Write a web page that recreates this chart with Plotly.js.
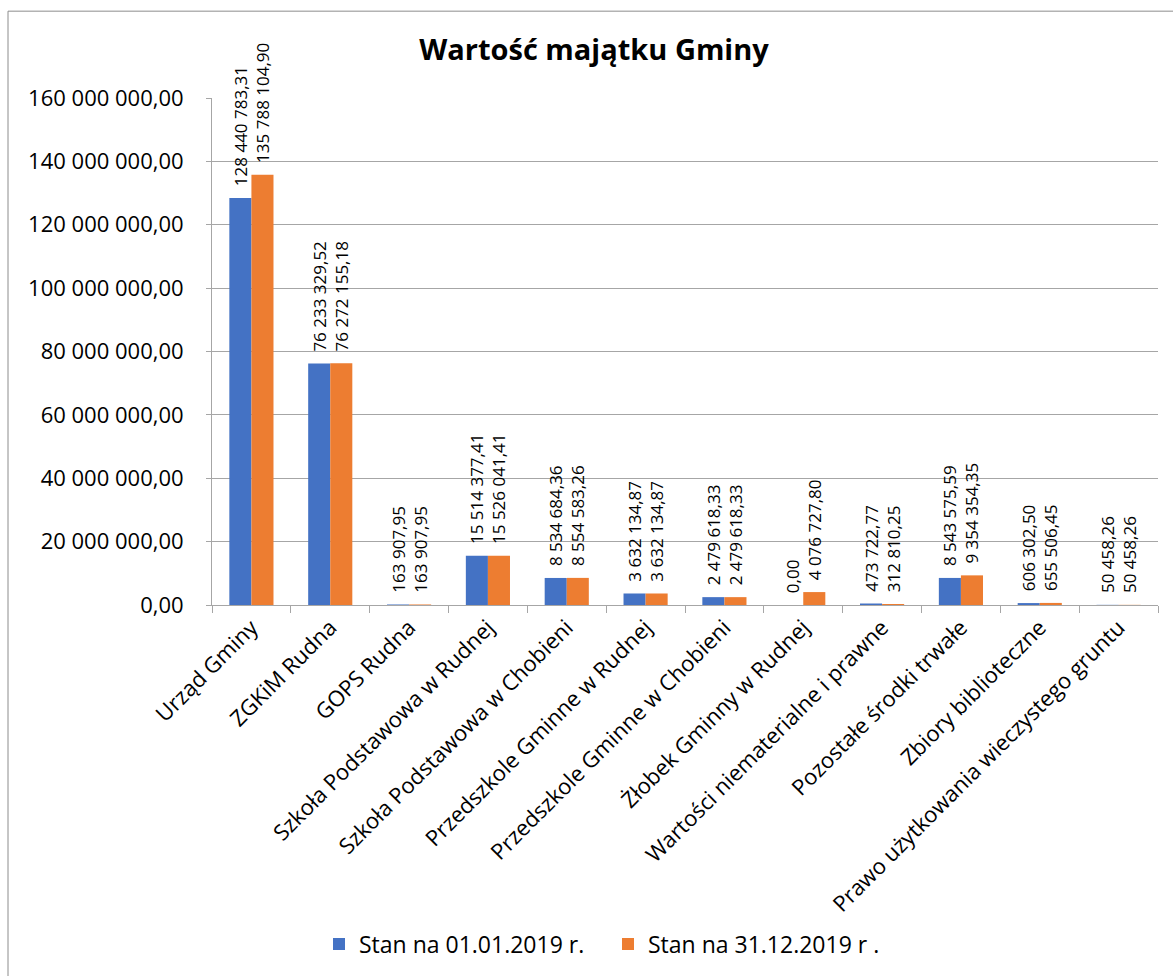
<!DOCTYPE html>
<html>
<head>
<meta charset="utf-8">
<script src="https://cdn.plot.ly/plotly-3.0.1.min.js"></script>
<style>html,body{margin:0;padding:0;background:#fff;}#chart{width:1173px;height:976px;}</style>
</head>
<body>
<div id="chart"></div>
<script>
const categories = ["Urząd Gminy","ZGKiM Rudna","GOPS Rudna","Szkoła Podstawowa w Rudnej","Szkoła Podstawowa w Chobieni","Przedszkole Gminne w Rudnej","Przedszkole Gminne w Chobieni","Żłobek Gminny w Rudnej","Wartości niematerialne i prawne","Pozostałe środki trwałe","Zbiory biblioteczne","Prawo użytkowania wieczystego gruntu"];
const seriesNames = ["Stan na 01.01.2019 r.","Stan na 31.12.2019 r ."];
const stan2019start = [128440783.31, 76233329.52, 163907.95, 15514377.41, 8534684.36, 3632134.87, 2479618.33, 0.00, 473722.77, 8543575.59, 606302.50, 50458.26];
const stan2019end = [135788104.90, 76272155.18, 163907.95, 15526041.41, 8554583.26, 3632134.87, 2479618.33, 4076727.80, 312810.25, 9354354.35, 655506.45, 50458.26];
const yTicks = [0, 20000000, 40000000, 60000000, 80000000, 100000000, 120000000, 140000000, 160000000];

const W = 1173, H = 976;
const L = 212, R = 1158, T = 98, B = 606;
const labelFont = {family: "Open Sans, sans-serif", size: 17, color: "#000"};

function barTrace(y, name, color) {
  return {
    type: "bar", x: categories, y: y, name: name,
    marker: {color: color},
    texttemplate: "\u00a0\u00a0%{y:,.2f}",
    textposition: "outside", textangle: -90,
    constraintext: "none", cliponaxis: false,
    textfont: labelFont, hoverinfo: "x+y"
  };
}

const data = [
  barTrace(stan2019start, seriesNames[0], "#4472C4"),
  barTrace(stan2019end, seriesNames[1], "#ED7D31")
];

const layout = {
  width: W, height: H,
  margin: {l: L, r: W - R, t: T, b: H - B, pad: 0},
  paper_bgcolor: "#fff", plot_bgcolor: "#fff",
  separators: ", ",
  font: {family: "Open Sans, sans-serif", color: "#000"},
  title: {text: "<b>Wartość majątku Gminy</b>", font: {size: 29, color: "#000"},
          xref: "container", x: 594 / W, xanchor: "center",
          yref: "container", y: 1 - 50 / H, yanchor: "middle"},
  barmode: "group", bargap: 0.44, bargroupgap: 0,
  xaxis: {type: "category", showline: true, linecolor: "#a6a6a6", linewidth: 1,
          ticks: "outside", tickson: "boundaries", ticklen: 7, tickcolor: "#a6a6a6",
          tickangle: -45, tickfont: {size: 22, color: "#000"}, showgrid: false,
          automargin: false},
  yaxis: {range: [0, 160000000], tickvals: yTicks, tickformat: ",.2f",
          showline: true, linecolor: "#a6a6a6", linewidth: 1,
          ticks: "outside", ticklen: 5, tickcolor: "#a6a6a6",
          ticklabelstandoff: 18, automargin: false,
          showgrid: true, gridcolor: "#a6a6a6", gridwidth: 1, zeroline: false,
          tickfont: {size: 22, color: "#000"}},
  showlegend: true,
  legend: {orientation: "h", x: (319 - L) / (R - L), xanchor: "left",
           y: (B - 944) / (B - T), yanchor: "middle",
           font: {size: 23, color: "#000"}, itemwidth: 30, tracegroupgap: 0,
           entrywidth: 244, entrywidthmode: "pixels"},
  shapes: [{type: "rect", xref: "paper", yref: "paper",
            x0: (8 - L) / (R - L), x1: 1.2, y0: (B - 11) / (B - T), y1: -1.5,
            line: {color: "#8c8c8c", width: 1}, fillcolor: "rgba(0,0,0,0)", layer: "below"}]
};

Plotly.newPlot("chart", data, layout, {displayModeBar: false, staticPlot: true});
</script>
</body>
</html>
